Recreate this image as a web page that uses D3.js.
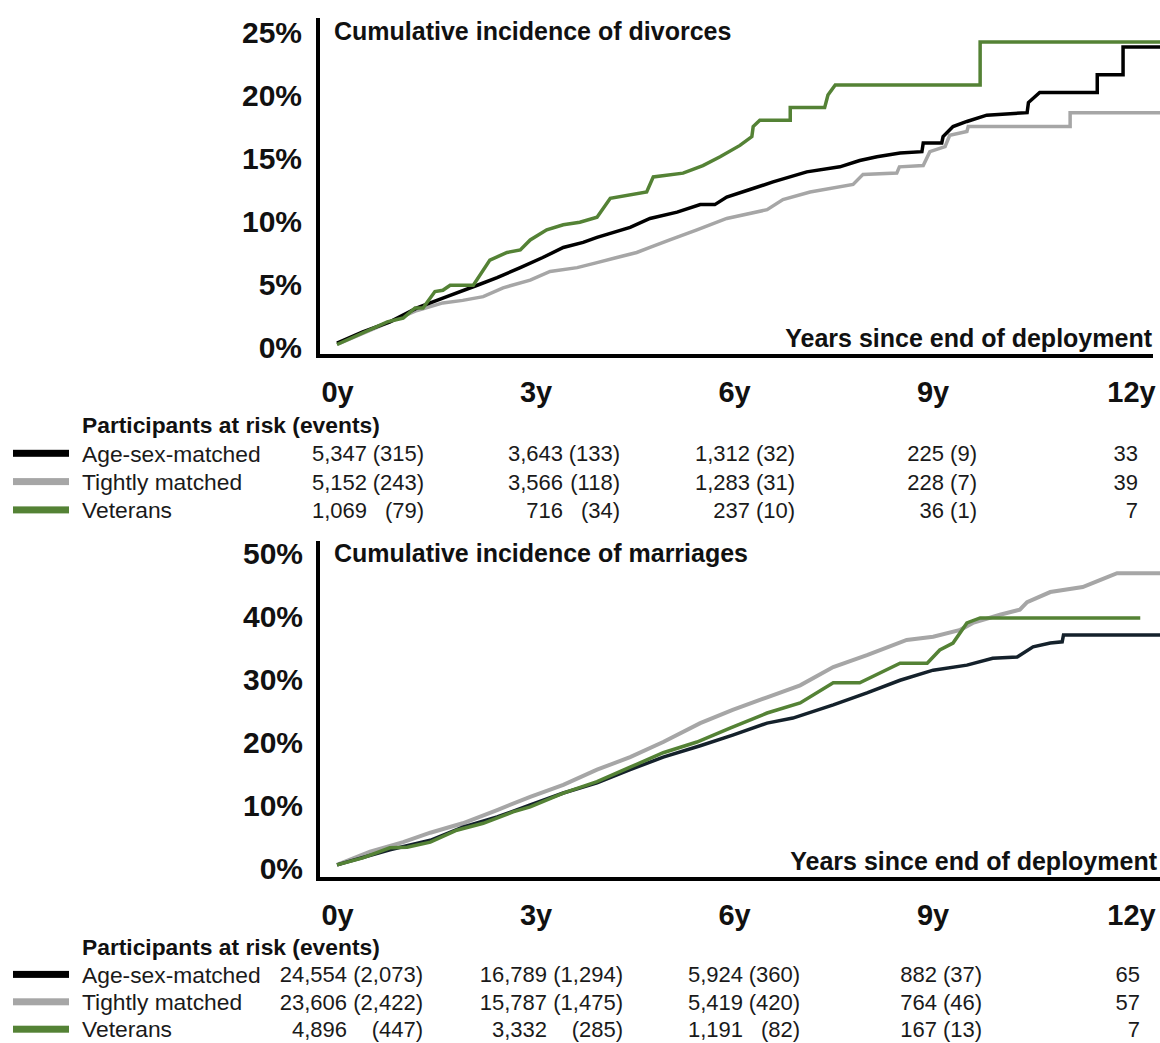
<!DOCTYPE html>
<html>
<head>
<meta charset="utf-8">
<script src="https://cdn.jsdelivr.net/npm/d3@7"></script>
<style>
  html, body { margin: 0; padding: 0; background: #fff; }
  svg { display: block; font-family: "Liberation Sans", Arial, Helvetica, sans-serif; }
</style>
</head>
<body>
<svg id="chart" width="1160" height="1043"></svg>
<script>
// ---- Data -------------------------------------------------------------
// Groups, in legend / table order
const groups = ["Age-sex-matched", "Tightly matched", "Veterans"];
const groupColors = ["#000000", "#a6a6a6", "#548235"];

// x-axis tick values (years since end of deployment)
const yearTicks = [0, 3, 6, 9, 12];

// Cumulative incidence of divorces, % : [years, percent]
const divorceAgeSex = [
  [0, 0.3], [0.39, 1.2], [0.80, 2.0], [1.21, 3.1], [1.66, 4.0], [2.12, 4.9],
  [2.42, 5.5], [2.77, 6.3], [3.11, 7.1], [3.42, 7.9], [3.72, 8.3], [3.93, 8.7],
  [4.43, 9.5], [4.73, 10.2], [5.14, 10.7], [5.49, 11.3], [5.71, 11.3], [5.89, 11.9],
  [6.24, 12.5], [6.59, 13.1], [7.10, 13.9], [7.60, 14.3], [7.90, 14.8], [8.16, 15.1],
  [8.51, 15.4], [8.84, 15.5], [8.86, 16.2], [9.14, 16.2], [9.16, 16.7], [9.31, 17.5],
  [9.52, 17.9], [9.82, 18.4], [10.43, 18.6], [10.45, 19.4], [10.62, 20.2],
  [11.49, 20.2], [11.49, 21.6], [11.88, 21.6], [11.88, 23.8], [12.44, 23.8]
];
const divorceTight = [
  [0, 0.2], [0.80, 2.0], [1.21, 2.9], [1.60, 3.5], [1.90, 3.7], [2.21, 4.0],
  [2.51, 4.7], [2.92, 5.3], [3.22, 6.0], [3.63, 6.3], [3.93, 6.7], [4.23, 7.1],
  [4.53, 7.5], [4.73, 7.9], [5.03, 8.5], [5.44, 9.3], [5.89, 10.2], [6.50, 10.9],
  [6.74, 11.7], [7.15, 12.3], [7.80, 12.9], [7.95, 13.7], [8.46, 13.8], [8.50, 14.3],
  [8.86, 14.4], [8.96, 15.5], [9.19, 15.9], [9.26, 16.8], [9.52, 17.1], [9.54, 17.5],
  [11.08, 17.5], [11.08, 18.6], [12.44, 18.6]
];
const divorceVeterans = [
  [0, 0.2], [0.76, 2.0], [1.0, 2.3], [1.18, 3.1], [1.30, 3.1], [1.48, 4.4],
  [1.60, 4.5], [1.71, 4.9], [2.06, 4.9], [2.31, 6.9], [2.57, 7.5], [2.77, 7.7],
  [2.92, 8.5], [3.17, 9.3], [3.42, 9.7], [3.67, 9.9], [3.93, 10.3], [4.13, 11.8],
  [4.68, 12.3], [4.78, 13.5], [5.23, 13.8], [5.53, 14.4], [5.79, 15.1], [6.09, 16.0],
  [6.27, 16.7], [6.29, 17.5], [6.39, 18.0], [6.85, 18.0], [6.85, 19.0], [7.37, 19.0],
  [7.42, 20.0], [7.53, 20.8], [9.72, 20.8], [9.72, 24.2], [12.44, 24.2]
];

// Cumulative incidence of marriages, % : [years, percent]
const marriageAgeSex = [
  [0, 0.5], [0.80, 2.9], [1.41, 4.4], [1.90, 6.5], [2.42, 8.1], [2.92, 10.0],
  [3.42, 11.9], [3.93, 13.5], [4.43, 15.6], [4.93, 17.6], [5.49, 19.4], [5.98, 21.1],
  [6.50, 23.0], [6.89, 23.8], [7.50, 25.9], [8.01, 27.8], [8.51, 29.8], [9.01, 31.4],
  [9.52, 32.2], [9.91, 33.3], [10.28, 33.5], [10.52, 35.1], [10.78, 35.7],
  [10.96, 35.9], [10.98, 37.0], [12.44, 37.0]
];
const marriageTight = [
  [0, 0.5], [0.50, 2.6], [1.0, 4.1], [1.41, 5.6], [1.90, 7.1], [2.42, 9.2],
  [2.92, 11.3], [3.42, 13.2], [3.93, 15.6], [4.43, 17.6], [4.93, 20.0], [5.49, 23.0],
  [5.98, 25.1], [6.50, 27.1], [7.00, 29.0], [7.50, 31.9], [8.01, 33.8], [8.61, 36.2],
  [9.01, 36.7], [9.42, 37.8], [9.61, 38.9], [10.02, 40.2], [10.32, 41.0],
  [10.43, 42.2], [10.78, 43.8], [11.27, 44.6], [11.53, 45.7], [11.79, 46.8],
  [12.44, 46.8]
];
const marriageVeterans = [
  [0, 0.5], [0.39, 1.6], [0.80, 3.2], [1.06, 3.3], [1.41, 4.1], [1.81, 6.0],
  [2.21, 7.1], [2.66, 8.9], [2.92, 9.7], [3.42, 11.9], [3.93, 13.7], [4.43, 16.0],
  [4.93, 18.3], [5.44, 20.0], [5.94, 22.2], [6.50, 24.6], [7.00, 26.2], [7.50, 29.4],
  [7.90, 29.4], [8.51, 32.5], [8.92, 32.5], [9.11, 34.6], [9.31, 35.7], [9.52, 38.9],
  [9.72, 39.7], [12.14, 39.7]
];

// Participants at risk (events) at 0, 3, 6, 9, 12 years
const divorceAtRisk = [
  [5347, 3643, 1312, 225, 33],
  [5152, 3566, 1283, 228, 39],
  [1069, 716, 237, 36, 7]
];
const divorceEvents = [
  [315, 133, 32, 9],
  [243, 118, 31, 7],
  [79, 34, 10, 1]
];
const marriageAtRisk = [
  [24554, 16789, 5924, 882, 65],
  [23606, 15787, 5419, 764, 57],
  [4896, 3332, 1191, 167, 7]
];
const marriageEvents = [
  [2073, 1294, 360, 37],
  [2422, 1475, 420, 46],
  [447, 285, 82, 13]
];

// ---- Drawing ----------------------------------------------------------
const svg = d3.select("#chart");
const fmt = d3.format(",");

const x = d3.scaleLinear().domain([0, 12]).range([337, 1131]);

function panel(opts) {
  const g = svg.append("g");
  const y = d3.scaleLinear().domain([0, opts.yMax]).range([opts.yBottom, opts.yTop]);

  // y tick labels
  const yAxis = d3.axisLeft(y)
    .tickValues(opts.yTicks)
    .tickFormat(d => d + "%")
    .tickSize(0)
    .tickPadding(0);
  const ya = g.append("g")
    .attr("transform", `translate(${opts.yLabelX},0)`)
    .call(yAxis);
  ya.select(".domain").remove();
  ya.selectAll("text")
    .attr("font-family", null)
    .style("font-size", "30px")
    .style("font-weight", "bold")
    .attr("fill", "#111")
    .attr("dy", "0.36em");

  // x tick labels
  const xAxis = d3.axisBottom(x)
    .tickValues(yearTicks)
    .tickFormat(d => d + "y")
    .tickSize(0)
    .tickPadding(0);
  const xa = g.append("g")
    .attr("transform", `translate(0,${opts.xLabelY})`)
    .call(xAxis);
  xa.select(".domain").remove();
  xa.selectAll("text")
    .attr("font-family", null)
    .attr("y", 0)
    .attr("dy", "0.36em")
    .style("font-size", "29px")
    .style("font-weight", "bold")
    .attr("fill", "#111");

  // series
  const line = d3.line().x(d => x(d[0])).y(d => y(d[1]));
  opts.series.forEach((s, i) => {
    g.append("path")
      .datum(s)
      .attr("fill", "none")
      .attr("stroke", opts.colors[i])
      .attr("stroke-width", opts.widths[i])
      .attr("stroke-linejoin", "miter")
      .attr("d", line);
  });

  // axis frame lines
  g.append("line")
    .attr("x1", 318).attr("x2", 318)
    .attr("y1", opts.frameTop).attr("y2", opts.frameBottom + 2)
    .attr("stroke", "#000").attr("stroke-width", 4);
  g.append("line")
    .attr("x1", 316).attr("x2", opts.frameRight)
    .attr("y1", opts.frameBottom).attr("y2", opts.frameBottom)
    .attr("stroke", "#000").attr("stroke-width", 4);

  // title and x-axis caption
  g.append("text")
    .attr("x", 334).attr("y", opts.titleY)
    .style("font-size", "25px").style("font-weight", "bold")
    .attr("fill", "#111")
    .text(opts.title);
  g.append("text")
    .attr("x", opts.captionX).attr("y", opts.captionY)
    .attr("text-anchor", "end")
    .style("font-size", "25px").style("font-weight", "bold")
    .attr("fill", "#111")
    .text("Years since end of deployment");

  // at-risk table
  const t = svg.append("g").style("font-size", "22px").attr("fill", "#1a1a1a");
  t.append("text")
    .attr("x", 82).attr("y", opts.tableY)
    .attr("dy", "0.36em")
    .style("font-weight", "bold")
    .style("font-size", "22.8px")
    .attr("fill", "#111")
    .text("Participants at risk (events)");
  groups.forEach((name, r) => {
    const cy = opts.tableY + opts.rowStep * (r + 1);
    t.append("rect")
      .attr("x", 13).attr("y", cy - 3.5)
      .attr("width", 56).attr("height", 7)
      .attr("fill", groupColors[r]);
    t.append("text")
      .attr("x", 82).attr("y", cy).attr("dy", "0.36em")
      .style("font-size", "22.8px")
      .text(name);
    opts.atRisk[r].forEach((n, c) => {
      t.append("text")
        .attr("x", opts.numEnd[c]).attr("y", cy).attr("dy", "0.36em")
        .attr("text-anchor", "end")
        .text(fmt(n));
      if (c < opts.events[r].length) {
        t.append("text")
          .attr("x", opts.evEnd[c]).attr("y", cy).attr("dy", "0.36em")
          .attr("text-anchor", "end")
          .text("(" + fmt(opts.events[r][c]) + ")");
      }
    });
  });
}

panel({
  yMax: 25, yTop: 32, yBottom: 347,
  yTicks: [0, 5, 10, 15, 20, 25],
  yLabelX: 302,
  xLabelY: 392,
  frameTop: 18, frameBottom: 356, frameRight: 1153,
  title: "Cumulative incidence of divorces", titleY: 40,
  captionX: 1152, captionY: 347,
  series: [divorceTight, divorceAgeSex, divorceVeterans],
  colors: ["#a6a6a6", "#000000", "#548235"],
  widths: [3.5, 3.5, 3.5],
  tableY: 425, rowStep: 28.3,
  atRisk: divorceAtRisk, events: divorceEvents,
  numEnd: [367, 563, 750, 944, 1138],
  evEnd: [424, 620, 795, 977]
});

panel({
  yMax: 50, yTop: 553, yBottom: 868,
  yTicks: [0, 10, 20, 30, 40, 50],
  yLabelX: 303,
  xLabelY: 915,
  frameTop: 541, frameBottom: 879, frameRight: 1160,
  title: "Cumulative incidence of marriages", titleY: 562,
  captionX: 1157, captionY: 870,
  series: [marriageTight, marriageAgeSex, marriageVeterans],
  colors: ["#a6a6a6", "#14212b", "#548235"],
  widths: [4, 3.5, 3.5],
  tableY: 947, rowStep: 27.4,
  atRisk: marriageAtRisk, events: marriageEvents,
  numEnd: [347, 547, 743, 937, 1140],
  evEnd: [423, 623, 800, 982]
});
</script>
</body>
</html>
